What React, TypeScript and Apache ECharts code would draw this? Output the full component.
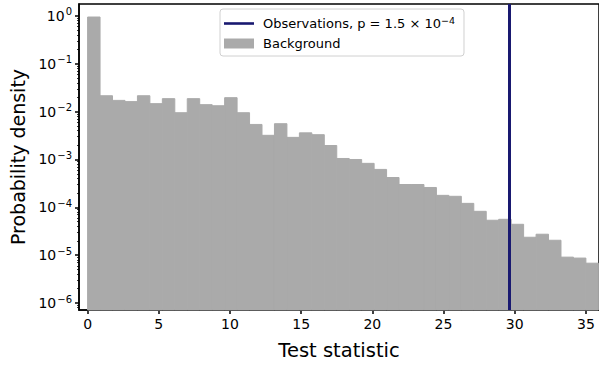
import React, { useEffect, useRef } from "react";
import * as echarts from "echarts";

// Histogram of background test statistic (bins of width 0.875 starting at 0)
const binWidth = 0.875;
const backgroundDensity = [
  0.95, 0.0215, 0.0172, 0.0162, 0.0215, 0.0147, 0.0187, 0.0095, 0.0187, 0.014,
  0.0133, 0.0196, 0.0095, 0.0054, 0.0032, 0.0056, 0.0029, 0.0036, 0.0033, 0.00196,
  0.00105, 0.001, 0.00083, 0.00062, 0.00042, 0.0003, 0.0003, 0.00026, 0.000178, 0.00017,
  0.000121, 0.0000825, 0.0000537, 0.0000562, 0.0000442, 0.0000237, 0.0000274, 0.0000205, 0.0000091, 0.0000087,
  0.0000068,
];
const observedStatistic = 29.63;
const pMantissa = "1.5";
const pExponent = -4;

const xTicks = [0, 5, 10, 15, 20, 25, 30, 35];
const yTicks = [1e-6, 1e-5, 1e-4, 1e-3, 1e-2, 1e-1, 1];
const yMinorTicks: number[] = [];
for (let e = -7; e <= 0; e++) {
  for (let m = 2; m <= 9; m++) yMinorTicks.push(m * Math.pow(10, e));
}

const X_MIN = -0.604;
const X_MAX = 35.92;
const Y_MIN = Math.pow(10, -6.146);
const Y_MAX = Math.pow(10, 0.25);

const FONT = "DejaVu Sans";
const GREY = "#aaaaaa";
const NAVY = "#191970";

function expLabel(e: number) {
  return `${e < 0 ? "\u2212" : ""}${Math.abs(e)}`;
}

export default function App() {
  const ref = useRef<HTMLDivElement>(null);
  useEffect(() => {
    if (!ref.current) return;
    const chart = echarts.init(ref.current, null, { renderer: "svg" });
    const histData = backgroundDensity.map((v, i) => [i * binWidth, (i + 1) * binWidth, v]);
    const option: any = {
      animation: false,
      backgroundColor: "#ffffff",
      grid: {
        left: 78,
        right: -5,
        top: 4,
        bottom: 54,
        show: true,
        borderColor: "#000",
        borderWidth: 1.5,
        backgroundColor: "transparent",
      },
      legend: {
        orient: "vertical",
        left: 220,
        top: 9,
        padding: [6, 9, 6, 4],
        itemGap: 7,
        itemWidth: 30,
        itemHeight: 10,
        borderColor: "#d0d0d0",
        borderWidth: 1,
        borderRadius: 3,
        backgroundColor: "rgba(255,255,255,0.8)",
        textStyle: {
          fontFamily: FONT,
          fontSize: 13,
          color: "#000",
          padding: [0, 0, 0, 4],
          rich: {
            s: { fontFamily: FONT, fontSize: 9.5, color: "#000", padding: [0, 0, 7, 0] },
          },
        },
        formatter: (name: string) =>
          name === "Observations"
            ? `Observations, p = ${pMantissa} \u00d7 10{s|${expLabel(pExponent)}}`
            : name,
        data: [
          { name: "Observations", icon: "path://M0,0 L30,0 L30,2.6 L0,2.6 Z" },
          { name: "Background", icon: "rect" },
        ],
      },
      xAxis: {
        type: "value",
        min: X_MIN,
        max: X_MAX,
        name: "Test statistic",
        nameLocation: "middle",
        nameGap: 30,
        nameTextStyle: { fontFamily: FONT, fontSize: 19.5, color: "#000" },
        axisLine: { show: true, onZero: false, lineStyle: { color: "#000", width: 1.5 } },
        axisTick: {
          show: true,
          customValues: xTicks,
          length: 4,
          lineStyle: { color: "#000", width: 1.5 },
        },
        axisLabel: {
          customValues: xTicks,
          fontFamily: FONT,
          fontSize: 14,
          color: "#000",
          margin: 7,
        },
        splitLine: { show: false },
      },
      yAxis: [
        {
          type: "log",
          logBase: 10,
          min: Y_MIN,
          max: Y_MAX,
          name: "Probability density",
          nameLocation: "middle",
          nameGap: 52,
          nameRotate: 90,
          nameTextStyle: { fontFamily: FONT, fontSize: 19, color: "#000" },
          axisLine: { show: true, onZero: false, lineStyle: { color: "#000", width: 1.5 } },
          axisTick: {
            show: true,
            customValues: yTicks,
            length: 4,
            lineStyle: { color: "#000", width: 1.5 },
          },
          axisLabel: {
            customValues: yTicks,
            margin: 7,
            formatter: (v: number) => `{b|10}{s|${expLabel(Math.round(Math.log10(v)))}}`,
            rich: {
              b: { fontFamily: FONT, fontSize: 14, color: "#000" },
              s: { fontFamily: FONT, fontSize: 10, color: "#000", padding: [0, 0, 8, 1] },
            },
          },
          splitLine: { show: false },
        },
        {
          type: "log",
          logBase: 10,
          min: Y_MIN,
          max: Y_MAX,
          position: "left",
          axisLine: { show: false, onZero: false },
          axisTick: {
            show: true,
            customValues: yMinorTicks,
            length: 2,
            lineStyle: { color: "#000", width: 0.8 },
          },
          axisLabel: { show: false, customValues: yMinorTicks },
          splitLine: { show: false },
        },
      ],
      series: [
        {
          name: "Background",
          type: "custom",
          itemStyle: { color: GREY },
          encode: { x: [0, 1], y: 2 },
          data: histData,
          renderItem: (params: any, api: any) => {
            const x0 = api.value(0);
            const x1 = api.value(1);
            const v = api.value(2);
            const pTop = api.coord([x0, v]);
            const pBot = api.coord([x1, Y_MIN]);
            const shape = echarts.graphic.clipRectByRect(
              { x: pTop[0], y: pTop[1], width: pBot[0] - pTop[0], height: pBot[1] - pTop[1] },
              params.coordSys
            );
            if (!shape) return null;
            return {
              type: "rect",
              shape,
              style: { fill: GREY, stroke: GREY, lineWidth: 1 },
            };
          },
          z: 2,
        },
        {
          name: "Observations",
          type: "line",
          data: [],
          symbol: "none",
          itemStyle: { color: NAVY },
          lineStyle: { color: NAVY, width: 3 },
          z: 5,
          markLine: {
            silent: true,
            symbol: ["none", "none"],
            label: { show: false },
            lineStyle: { color: NAVY, width: 3, type: "solid" },
            data: [{ xAxis: observedStatistic }],
          },
        },
      ],
    };
    chart.setOption(option);
    return () => chart.dispose();
  }, []);
  return (
    <div
      ref={ref}
      style={{ position: "absolute", left: 0, top: 0, width: 599, height: 365 }}
    />
  );
}
